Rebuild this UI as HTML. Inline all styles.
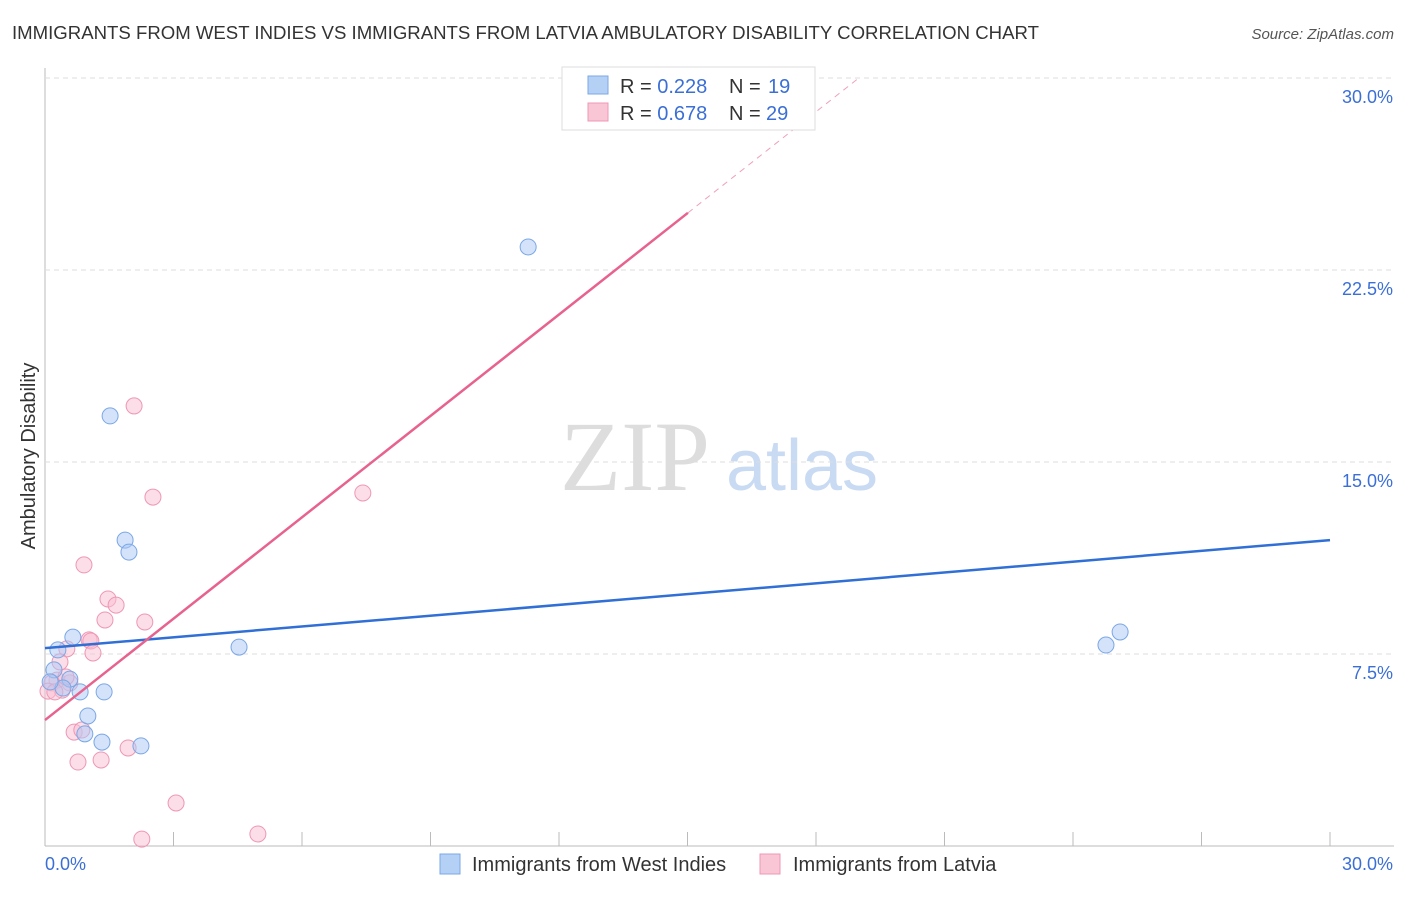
<!DOCTYPE html>
<html><head><meta charset="utf-8"><style>
body{margin:0;background:#fff;font-family:"Liberation Sans",sans-serif}
svg text{font-family:"Liberation Sans",sans-serif}
svg text.serif{font-family:"Liberation Serif",serif}
</style></head><body>
<svg id="c" width="1406" height="892">
<text x="12" y="39" font-size="18.6" fill="#333">IMMIGRANTS FROM WEST INDIES VS IMMIGRANTS FROM LATVIA AMBULATORY DISABILITY CORRELATION CHART</text>
<text x="1394" y="39" font-size="15" fill="#555" text-anchor="end" font-style="italic">Source: ZipAtlas.com</text>
<text transform="translate(35,456) rotate(-90)" font-size="20" fill="#333" text-anchor="middle">Ambulatory Disability</text>
<g><text class="serif" x="635" y="490" font-size="100" fill="#ddd" text-anchor="middle">ZIP</text><text x="802" y="490" font-size="72" fill="#c9daf3" text-anchor="middle">atlas</text></g>
<g id="grid"></g><g id="marks"></g>
<g>
<rect x="562" y="67" width="253" height="63" fill="#fff" stroke="#ddd"/>
<rect x="588" y="76" width="20" height="18" fill="#b5d0f5" stroke="#7aa7e6"/>
<text x="620" y="93" font-size="20" fill="#333">R = <tspan fill="#3b6fd6">0.228</tspan></text>
<text x="729" y="93" font-size="20" fill="#333">N = <tspan x="768" fill="#3b6fd6">19</tspan></text>
<rect x="588" y="103" width="20" height="18" fill="#f9c6d6" stroke="#ee97b4"/>
<text x="620" y="120" font-size="20" fill="#333">R = <tspan fill="#3b6fd6">0.678</tspan></text>
<text x="729" y="120" font-size="20" fill="#333">N = <tspan x="766" fill="#3b6fd6">29</tspan></text>
</g>
<g>
<rect x="440" y="854" width="20" height="20" fill="#b5d0f5" stroke="#7aa7e6"/>
<text x="472" y="871" font-size="20" fill="#333">Immigrants from West Indies</text>
<rect x="760" y="854" width="20" height="20" fill="#f9c6d6" stroke="#ee97b4"/>
<text x="793" y="871" font-size="20" fill="#333">Immigrants from Latvia</text>
</g>
</svg>
<script>
const yTicks=[7.5,15,22.5,30];
const yTickLabels=["7.5%","15.0%","22.5%","30.0%"];
const blueX=[0.21,0.3,0.65,0.58,0.42,0.82,1.38,1.0,0.93,1.33,2.24,1.87,1.96,1.52,4.53,11.28,24.77,25.1,0.12];
const blueY=[6.88,7.66,8.16,6.52,6.17,6.02,6.02,5.08,4.38,4.06,3.91,11.95,11.48,16.8,7.77,23.4,7.85,8.36,6.41];
const pinkX=[2.08,2.52,7.42,0.91,1.47,1.66,1.4,2.33,1.03,1.07,1.12,0.51,0.35,0.28,0.16,0.58,0.4,0.07,0.23,0.68,0.86,0.77,1.31,1.94,3.06,2.26,4.97,14.34,0.49];
const pinkY=[17.19,13.63,13.79,10.98,9.65,9.41,8.83,8.75,8.05,8.01,7.54,7.7,7.19,6.48,6.37,6.37,6.09,6.05,6.02,4.45,4.53,3.28,3.36,3.83,1.68,0.27,0.47,28.44,6.6];
const blueLine=[7.73,11.95];
const pinkLine=[4.92,1.32];
const NS="http://www.w3.org/2000/svg";
const X=v=>45+v*1285/30, Y=v=>846-v*25.6;
function mk(t,a,p){const e=document.createElementNS(NS,t);for(const k in a)e.setAttribute(k,a[k]);p.appendChild(e);return e;}
const g=document.getElementById('grid'),m=document.getElementById('marks');
let ax=mk('line',{x1:45,y1:68,x2:45,y2:846,stroke:'#bbb'},g);


let bx=mk('line',{x1:45,y1:846,x2:1394,y2:846,stroke:'#bbb'},g);


yTicks.forEach((t,i)=>{
 let l=mk('line',{x1:45,y1:Y(t),x2:1394,y2:Y(t),stroke:'#ddd','stroke-dasharray':'5,4'},g);
 
 
 let tx=mk('text',{x:1393,y:Y(t)+25,'font-size':18,fill:'#3b6fd6','text-anchor':'end'},g);tx.textContent=yTickLabels[i];
 
 
});
for(let i=0;i<=10;i++){let l=mk('line',{x1:X(i*3),y1:832,x2:X(i*3),y2:846,stroke:'#bbb'},g);
 
 }
let x0=mk('text',{x:45,y:870,'font-size':18,fill:'#3b6fd6'},g);x0.textContent='0.0%';


let x1=mk('text',{x:1393,y:870,'font-size':18,fill:'#3b6fd6','text-anchor':'end'},g);x1.textContent='30.0%';


pinkX.forEach((v,i)=>{let c=mk('circle',{cx:X(v),cy:Y(pinkY[i]),r:8,fill:'rgba(249,190,210,0.5)',stroke:'#ee97b4'},m);
 
 });
blueX.forEach((v,i)=>{let c=mk('circle',{cx:X(v),cy:Y(blueY[i]),r:8,fill:'rgba(170,200,245,0.5)',stroke:'#7aa7e6'},m);
 
 });
let bl=mk('line',{x1:X(0),y1:Y(blueLine[0]),x2:X(30),y2:Y(blueLine[1]),stroke:'#2f6fd6','stroke-width':2.5},m);


const xe=15.01, xm=(30-pinkLine[0])/pinkLine[1];
let pl=mk('line',{x1:X(0),y1:Y(pinkLine[0]),x2:X(xe),y2:Y(pinkLine[0]+pinkLine[1]*xe),stroke:'#e8628e','stroke-width':2.5},m);


let pd=mk('line',{x1:X(xe),y1:Y(pinkLine[0]+pinkLine[1]*xe),x2:X(xm),y2:Y(30),stroke:'#f0a0ba','stroke-width':1,'stroke-dasharray':'6,5'},m);


</script>
</body></html>
